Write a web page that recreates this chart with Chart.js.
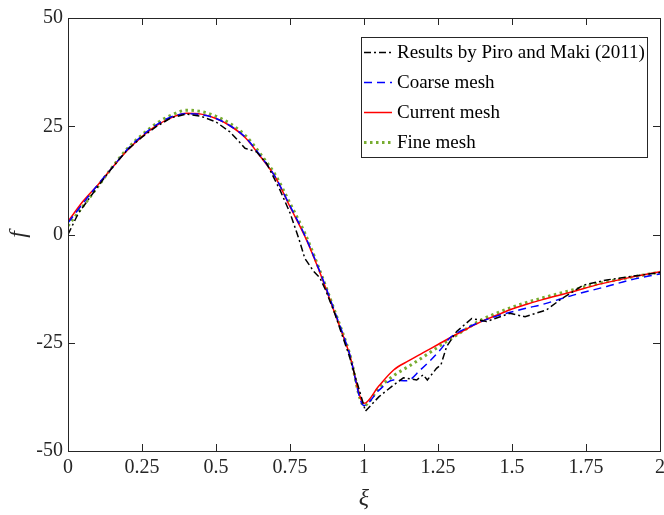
<!DOCTYPE html>
<html>
<head>
<meta charset="utf-8">
<script src="https://cdn.jsdelivr.net/npm/chart.js@4.4.1/dist/chart.umd.min.js"></script>
<style>
  html, body { margin: 0; padding: 0; background: #fff; }
  #wrap { width: 664px; height: 515px; position: relative; }
</style>
</head>
<body>
<div id="wrap"><canvas id="c" width="664" height="515"></canvas></div>
<script>
// ---------- data ----------
const xTickValues = [0, 0.25, 0.5, 0.75, 1, 1.25, 1.5, 1.75, 2];
const xTickLabels = ['0', '0.25', '0.5', '0.75', '1', '1.25', '1.5', '1.75', '2'];
const yTickValues = [-50, -25, 0, 25, 50];
const yTickLabels = ['-50', '-25', '0', '25', '50'];

const seriesNames = ['Results by Piro and Maki (2011)', 'Coarse mesh', 'Current mesh', 'Fine mesh'];

const piroX = [0, 0.035, 0.1, 0.15, 0.2, 0.25, 0.3, 0.35, 0.4, 0.45, 0.5, 0.547, 0.58, 0.598, 0.637, 0.671, 0.716, 0.75, 0.78, 0.8, 0.83, 0.851, 0.87, 0.9, 0.95, 1.005, 1.05, 1.099, 1.133, 1.178, 1.2, 1.214, 1.245, 1.26, 1.279, 1.313, 1.364, 1.414, 1.493, 1.544, 1.617, 1.662, 1.741, 1.82, 1.91, 2.0];
const piroY = [0, 4.9, 11, 15.5, 19.5, 22.5, 25, 27, 27.8, 27.3, 26, 23.7, 21.3, 19.9, 19.1, 16.4, 10.3, 5.0, -1.0, -5.5, -8.5, -10, -12.8, -18, -28, -40.8, -37.5, -34.8, -33.1, -33.6, -32.4, -33.6, -30.9, -30.1, -25.9, -22.4, -19.4, -20.1, -18.2, -19.0, -17.4, -15.1, -11.7, -10.5, -9.6, -8.8];

const coarseX = [0, 0.091, 0.15, 0.2, 0.25, 0.3, 0.35, 0.4, 0.45, 0.5, 0.55, 0.6, 0.65, 0.7, 0.75, 0.8, 0.85, 0.9, 0.95, 1.0, 1.05, 1.099, 1.144, 1.19, 1.257, 1.29, 1.35, 1.4, 1.45, 1.55, 1.6, 1.707, 1.82, 1.9, 2.0];
const coarseY = [2.7, 10.7, 15.5, 19.6, 22.8, 25.4, 27.2, 27.9, 27.7, 26.8, 25.0, 22.4, 18.2, 13.3, 6.6, -0.2, -8.4, -17.6, -27.3, -39.5, -36, -33.6, -33.8, -31.3, -26.7, -23.9, -21.5, -20.0, -18.8, -17.0, -16.2, -14.0, -12.0, -10.5, -9.1];

const currentX = [0, 0.05, 0.1, 0.15, 0.2, 0.25, 0.3, 0.35, 0.4, 0.45, 0.5, 0.55, 0.6, 0.65, 0.7, 0.75, 0.8, 0.85, 0.9, 0.95, 1.0, 1.05, 1.1, 1.15, 1.2, 1.25, 1.3, 1.35, 1.4, 1.45, 1.5, 1.55, 1.6, 1.7, 1.8, 1.9, 2.0];
const currentY = [3.0, 7.6, 11.4, 15.5, 19.4, 22.6, 25.2, 27.0, 28.0, 27.8, 26.8, 25.0, 22.3, 18.0, 13.3, 6.4, -0.4, -8.6, -17.9, -27.4, -39.0, -35.0, -31.3, -29.2, -27.3, -25.4, -23.5, -21.7, -20.0, -18.6, -17.2, -16.1, -15.1, -13.3, -11.4, -9.9, -8.6];

const fineX = [0, 0.1, 0.15, 0.2, 0.25, 0.3, 0.35, 0.4, 0.45, 0.5, 0.55, 0.6, 0.65, 0.7, 0.75, 0.8, 0.85, 0.9, 0.95, 1.0, 1.05, 1.1, 1.15, 1.2, 1.25, 1.3, 1.35, 1.4, 1.45, 1.5, 1.55, 1.6, 1.7, 1.8, 1.9, 2.0];
const fineY = [2.0, 11.0, 15.6, 19.8, 23.0, 25.7, 27.6, 28.7, 28.4, 27.3, 25.5, 22.8, 18.6, 13.8, 7.2, 0.3, -8.2, -17.5, -27.2, -39.5, -35.5, -32.6, -30.5, -28.3, -26.0, -23.8, -21.6, -19.6, -18.1, -16.8, -15.7, -14.7, -12.9, -11.2, -9.9, -8.7];

const toPts = (xs, ys) => xs.map((x, i) => ({ x: x, y: ys[i] }));

const FONT = '"Liberation Serif", "Times New Roman", serif';
const TXT = '#262626';

// inward ticks, box and legend
const decor = {
  id: 'decor',
  afterDatasetsDraw(chart) {
    const ctx = chart.ctx;
    const a = chart.chartArea;
    const xs = chart.scales.x, ys = chart.scales.y;
    ctx.save();
    ctx.strokeStyle = TXT;
    ctx.lineWidth = 1;
    ctx.setLineDash([]);
    const L = 7;
    ctx.beginPath();
    xTickValues.forEach(v => {
      const px = Math.round(xs.getPixelForValue(v)) + 0.5;
      ctx.moveTo(px, a.bottom); ctx.lineTo(px, a.bottom - L);
      ctx.moveTo(px, a.top); ctx.lineTo(px, a.top + L);
    });
    yTickValues.forEach(v => {
      const py = Math.round(ys.getPixelForValue(v)) + 0.5;
      ctx.moveTo(a.left, py); ctx.lineTo(a.left + L, py);
      ctx.moveTo(a.right, py); ctx.lineTo(a.right - L, py);
    });
    ctx.stroke();
    ctx.strokeRect(Math.round(a.left) + 0.5, Math.round(a.top) + 0.5, Math.round(a.right - a.left), Math.round(a.bottom - a.top));

    // legend
    const bx = 361.5, by = 37.5, bw = 286, bh = 120;
    ctx.fillStyle = '#fff';
    ctx.fillRect(bx, by, bw, bh);
    ctx.strokeRect(bx, by, bw, bh);
    const rows = [52.5, 82.5, 112.5, 142.5];
    ctx.font = '19px ' + FONT;
    ctx.textBaseline = 'middle';
    ctx.textAlign = 'left';
    chart.data.datasets.forEach((ds, i) => {
      const y = rows[i];
      ctx.save();
      ctx.strokeStyle = ds.borderColor;
      ctx.lineWidth = ds.borderWidth;
      ctx.setLineDash(ds.borderDash || []);
      ctx.beginPath();
      ctx.moveTo(364, y); ctx.lineTo(392, y);
      ctx.stroke();
      ctx.restore();
      ctx.fillStyle = '#000';
      ctx.fillText(ds.label, 397, y + 1);
    });
    ctx.restore();
  }
};

new Chart(document.getElementById('c'), {
  type: 'scatter',
  data: {
    datasets: [
      { label: seriesNames[0], data: toPts(piroX, piroY), showLine: true, borderColor: '#000000', borderWidth: 1.5, borderDash: [7, 3, 2, 3], pointRadius: 0, tension: 0 },
      { label: seriesNames[1], data: toPts(coarseX, coarseY), showLine: true, borderColor: '#0000ff', borderWidth: 1.5, borderDash: [8, 5], pointRadius: 0, cubicInterpolationMode: 'monotone' },
      { label: seriesNames[2], data: toPts(currentX, currentY), showLine: true, borderColor: '#ff0000', borderWidth: 1.5, pointRadius: 0, cubicInterpolationMode: 'monotone' },
      { label: seriesNames[3], data: toPts(fineX, fineY), showLine: true, borderColor: '#77ac30', borderWidth: 3, borderDash: [2.5, 3.5], pointRadius: 0, cubicInterpolationMode: 'monotone' }
    ]
  },
  options: {
    responsive: false,
    animation: false,
    events: [],
    layout: { padding: { top: 18, right: 4, left: 0, bottom: 0 } },
    plugins: { legend: { display: false }, tooltip: { enabled: false } },
    scales: {
      x: {
        type: 'linear', min: 0, max: 2,
        afterBuildTicks: s => { s.ticks = xTickValues.map(v => ({ value: v })); },
        afterFit: s => { s.height = 64; s.paddingLeft = 0; s.paddingRight = 0; },
        ticks: {
          autoSkip: false, maxRotation: 0, padding: 5, color: TXT,
          font: { family: FONT, size: 20 },
          callback: (v) => xTickLabels[xTickValues.indexOf(v)]
        },
        grid: { display: false, drawTicks: false },
        border: { display: false },
        title: { display: true, text: 'ξ', color: TXT, font: { family: FONT, size: 24, style: 'italic' }, padding: { top: 0, bottom: 2 } }
      },
      y: {
        type: 'linear', min: -50, max: 50,
        afterBuildTicks: s => { s.ticks = yTickValues.map(v => ({ value: v })); },
        afterFit: s => { s.width = 68; s.paddingTop = 0; s.paddingBottom = 0; },
        ticks: {
          padding: 5, color: TXT,
          font: { family: FONT, size: 20 },
          callback: (v) => yTickLabels[yTickValues.indexOf(v)]
        },
        grid: { display: false, drawTicks: false },
        border: { display: false },
        title: { display: true, text: 'f', color: TXT, font: { family: FONT, size: 24, style: 'italic' }, padding: { top: 4, bottom: 0 } }
      }
    }
  },
  plugins: [decor]
});
</script>
</body>
</html>
